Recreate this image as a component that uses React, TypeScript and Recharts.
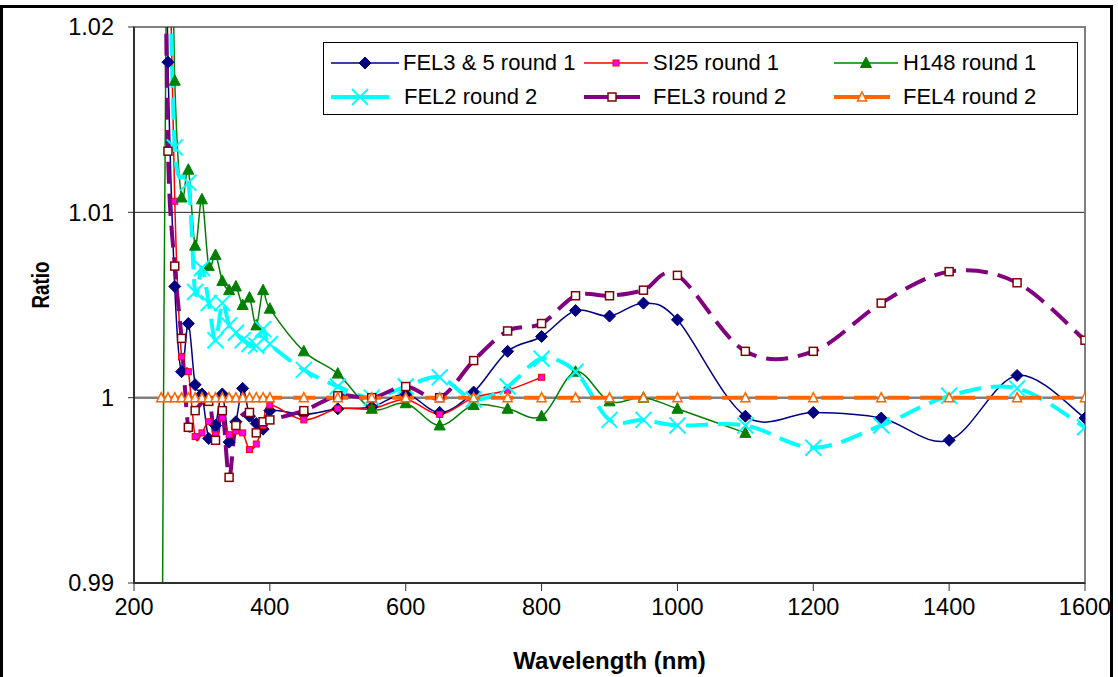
import React from "react";
import {
  LineChart, Line, XAxis, YAxis, CartesianGrid,
  ReferenceLine, ReferenceArea
} from "recharts";

// wavelengths (nm) and ratios
const fel35Wl = [245, 250, 260, 270, 280, 290, 300, 310, 320, 330, 340, 350, 360, 370, 380, 390, 400, 450, 500, 550, 600, 650, 700, 750, 800, 850, 900, 950, 1000, 1100, 1200, 1300, 1400, 1500, 1600];
const fel35Ratio = [1.032, 1.0181, 1.006, 1.0014, 1.004, 1.0007, 1.0002, 0.9978, 0.9985, 1.0002, 0.9976, 0.9987, 1.0005, 0.999, 0.9986, 0.9983, 0.9993, 0.9991, 0.9994, 0.9995, 1.0002, 0.9992, 1.0003, 1.0025, 1.0033, 1.0047, 1.0044, 1.0051, 1.0042, 0.999, 0.9992, 0.9989, 0.9977, 1.0012, 0.9989];

const si25Wl = [250, 260, 270, 280, 290, 300, 310, 320, 330, 340, 350, 360, 370, 380, 390, 400, 450, 500, 550, 600, 650, 700, 750, 800];
const si25Ratio = [1.03, 1.0106, 1.0022, 1.0014, 0.9979, 0.9981, 0.9987, 0.998, 0.9989, 0.998, 0.9982, 0.9981, 0.9972, 0.9975, 0.9985, 0.9996, 0.9988, 0.9994, 0.9994, 0.9999, 0.9991, 1.0, 1.0004, 1.0011];

const h148Wl = [240, 250, 260, 270, 280, 290, 300, 310, 320, 330, 340, 350, 360, 370, 380, 390, 400, 450, 500, 550, 600, 650, 700, 750, 800, 850, 900, 950, 1000, 1100];
const h148Ratio = [0.975, 1.035, 1.0171, 1.0108, 1.0123, 1.0082, 1.0107, 1.0071, 1.0077, 1.0063, 1.0058, 1.006, 1.005, 1.0054, 1.0039, 1.0058, 1.0048, 1.0025, 1.0013, 0.9994, 0.9997, 0.9985, 0.9996, 0.9994, 0.999, 1.0014, 0.9998, 1.0, 0.9994, 0.9981];

const fel2Wl = [250, 260, 280, 290, 300, 310, 320, 330, 340, 350, 360, 370, 380, 390, 400, 450, 500, 550, 600, 650, 700, 750, 800, 850, 900, 950, 1000, 1100, 1200, 1300, 1400, 1500, 1600];
const fel2Ratio = [1.03, 1.0135, 1.0116, 1.0057, 1.007, 1.0051, 1.0031, 1.0051, 1.0039, 1.0035, 1.0031, 1.0029, 1.0028, 1.0037, 1.0029, 1.0015, 1.0006, 1.0, 1.0006, 1.0011, 0.9999, 1.0006, 1.0021, 1.0014, 0.9988, 0.9988, 0.9985, 0.9985, 0.9973, 0.9985, 1.0001, 1.0005, 0.9984];

const fel3Wl = [245, 250, 260, 270, 280, 290, 310, 320, 330, 340, 350, 370, 380, 390, 400, 450, 500, 550, 600, 650, 700, 750, 800, 850, 900, 950, 1000, 1100, 1200, 1300, 1400, 1500, 1600];
const fel3Ratio = [1.03, 1.0133, 1.0071, 1.0032, 0.9984, 0.9993, 0.9998, 0.9977, 0.9993, 0.9957, 0.9985, 0.9992, 0.9981, 0.9987, 0.9988, 0.9993, 1.0001, 1.0, 1.0006, 1.0, 1.002, 1.0036, 1.004, 1.0055, 1.0055, 1.0058, 1.0066, 1.0025, 1.0025, 1.0051, 1.0068, 1.0062, 1.0031];

const fel4Wl = [240, 250, 260, 270, 280, 290, 300, 310, 320, 330, 340, 350, 360, 370, 380, 390, 400, 450, 500, 550, 600, 650, 700, 750, 800, 850, 900, 950, 1000, 1100, 1200, 1300, 1400, 1500, 1600];
const fel4Ratio = [1, 1, 1, 1, 1, 1, 1, 1, 1, 1, 1, 1, 1, 1, 1, 1, 1, 1, 1, 1, 1, 1, 1, 1, 1, 1, 1, 1, 1, 1, 1, 1, 1, 1, 1];

const xTicks = [200, 400, 600, 800, 1000, 1200, 1400, 1600];
const yTicks = [0.99, 1.0, 1.01, 1.02];

const toPoints = (xs: number[], ys: number[]) => xs.map((x, i) => ({ x, y: ys[i] }));

const FONT = '"Liberation Sans", Arial, sans-serif';

// Excel-style smoothed line (Catmull-Rom as cubic beziers)
function excelSmooth(context: any) {
  let pts: number[][] = [];
  return {
    areaStart() {},
    areaEnd() {},
    lineStart() { pts = []; },
    point(x: number, y: number) { pts.push([+x, +y]); },
    lineEnd() {
      if (!pts.length) return;
      context.moveTo(pts[0][0], pts[0][1]);
      const t = 1 / 6;
      for (let i = 0; i < pts.length - 1; i++) {
        const p0 = pts[i - 1] || pts[i];
        const p1 = pts[i];
        const p2 = pts[i + 1];
        const p3 = pts[i + 2] || p2;
        context.bezierCurveTo(
          p1[0] + (p2[0] - p0[0]) * t, p1[1] + (p2[1] - p0[1]) * t,
          p2[0] - (p3[0] - p1[0]) * t, p2[1] - (p3[1] - p1[1]) * t,
          p2[0], p2[1]
        );
      }
    },
  };
}

// marker shapes
const Diamond = ({ cx, cy }: any) => (
  <path d={`M${cx},${cy - 6}L${cx + 6},${cy}L${cx},${cy + 6}L${cx - 6},${cy}Z`} fill="#000080" stroke="#000080" />
);
const SmallSquare = ({ cx, cy }: any) => (
  <rect x={cx - 3} y={cy - 3} width={6} height={6} fill="#ff00ff" stroke="#ff0000" strokeWidth={1} />
);
const FilledTriangle = ({ cx, cy }: any) => (
  <path d={`M${cx},${cy - 6}L${cx + 5.5},${cy + 4.5}L${cx - 5.5},${cy + 4.5}Z`} fill="#008000" stroke="#008000" />
);
const Cross = ({ cx, cy }: any) => (
  <g stroke="#00ffff" strokeWidth={2}>
    <line x1={cx - 8} y1={cy - 8} x2={cx + 8} y2={cy + 8} />
    <line x1={cx - 8} y1={cy + 8} x2={cx + 8} y2={cy - 8} />
  </g>
);
const OpenSquare = ({ cx, cy }: any) => (
  <rect x={cx - 4} y={cy - 4} width={8} height={8} fill="#ffffff" stroke="#800000" strokeWidth={1.5} />
);
const OpenTriangle = ({ cx, cy }: any) => (
  <path d={`M${cx},${cy - 5}L${cx + 4.5},${cy + 4}L${cx - 4.5},${cy + 4}Z`} fill="#ffffff" stroke="#ff6600" strokeWidth={1.5} />
);

const dotOf = (Shape: any) => (p: any) =>
  p.cx == null || p.cy == null ? <g key={p.index} /> : <Shape key={p.index} cx={p.cx} cy={p.cy} />;

const series = [
  { name: "FEL3 & 5 round 1", xs: fel35Wl, ys: fel35Ratio, color: "#000080", width: 1.5, dash: undefined, Shape: Diamond },
  { name: "SI25 round 1", xs: si25Wl, ys: si25Ratio, color: "#ff0000", width: 1.5, dash: undefined, Shape: SmallSquare },
  { name: "H148 round 1", xs: h148Wl, ys: h148Ratio, color: "#008000", width: 1.5, dash: undefined, Shape: FilledTriangle },
  { name: "FEL2 round 2", xs: fel2Wl, ys: fel2Ratio, color: "#00ffff", width: 4, dash: "22 10", Shape: Cross },
  { name: "FEL3 round 2", xs: fel3Wl, ys: fel3Ratio, color: "#800080", width: 4, dash: "22 10", Shape: OpenSquare },
  { name: "FEL4 round 2", xs: fel4Wl, ys: fel4Ratio, color: "#ff6600", width: 4, dash: "22 11", Shape: OpenTriangle },
];

// legend slots: [left of sample, sample length, left of text, row center] relative to the box
const legendSlots = [
  [7, 68, 79, 20], [260, 64, 329, 20], [510, 64, 579, 20],
  [7, 58, 80, 54], [260, 56, 329, 54], [510, 56, 579, 54],
];

const LegendBox = () => (
  <div style={{ position: "absolute", left: 323, top: 42, width: 755, height: 73, border: "1px solid #000", background: "#fff", boxSizing: "border-box", fontFamily: FONT }}>
    {series.map((s, i) => {
      const [sl, len, tl, cy] = legendSlots[i];
      return (
        <React.Fragment key={s.name}>
          <svg style={{ position: "absolute", left: sl, top: cy - 10 }} width={len} height={20}>
            <line x1={0} y1={10} x2={len} y2={10} stroke={s.color} strokeWidth={s.width === 4 ? 4 : 1.5} />
            <s.Shape cx={len / 2} cy={10} />
          </svg>
          <span style={{ position: "absolute", left: tl, top: cy - 13, fontSize: 22, lineHeight: "26px", whiteSpace: "nowrap", color: "#000" }}>
            {s.name}
          </span>
        </React.Fragment>
      );
    })}
  </div>
);

export default function App() {
  return (
    <div style={{ position: "absolute", left: 0, top: 0, width: 1118, height: 677, background: "#fff", fontFamily: FONT, overflow: "hidden" }}>
      {/* outer frame */}
      <div style={{ position: "absolute", left: 0, top: 5, width: 1113, height: 690, border: "3px solid #000", boxSizing: "border-box" }} />
      <LineChart width={1118} height={677} margin={{ top: 27, right: 33, bottom: 0, left: 0 }}>
        <CartesianGrid horizontal vertical={false} stroke="#202020" strokeWidth={1} />
        <ReferenceArea x1={200} x2={1600} y1={0.99} y2={1.02} fill="none" stroke="#808080" strokeWidth={2} />
        <ReferenceLine y={1} stroke="#808080" strokeWidth={2.5} />
        <XAxis
          type="number"
          dataKey="x"
          domain={[200, 1600]}
          ticks={xTicks}
          allowDataOverflow
          height={94}
          tickSize={8}
          tickMargin={7}
          tick={{ fontSize: 23.5, fill: "#000", fontFamily: FONT }}
          axisLine={{ stroke: "#303030", strokeWidth: 2 }}
          tickLine={{ stroke: "#303030" }}
          label={{ value: "Wavelength (nm)", position: "insideBottom", offset: 8, style: { fontSize: 24, fontWeight: "bold", fill: "#000", fontFamily: FONT } }}
        />
        <YAxis
          type="number"
          domain={[0.99, 1.02]}
          ticks={yTicks}
          allowDataOverflow
          width={134}
          tickSize={6}
          tickMargin={14}
          tickFormatter={(v: number) => String(v)}
          tick={{ fontSize: 23.5, fill: "#000", fontFamily: FONT }}
          axisLine={{ stroke: "#303030", strokeWidth: 2 }}
          tickLine={{ stroke: "#303030" }}
          label={{
            content: () => (
              <text x={49} y={285} transform="rotate(-90 49 285)" textAnchor="middle" fontSize={23} fontWeight="bold" fontFamily={FONT} fill="#000" textLength={47} lengthAdjust="spacingAndGlyphs">
                Ratio
              </text>
            ),
          }}
        />
        {series.map((s) => (
          <Line
            key={s.name}
            name={s.name}
            data={toPoints(s.xs, s.ys)}
            dataKey="y"
            type={excelSmooth as any}
            stroke={s.color}
            strokeWidth={s.width}
            strokeDasharray={s.dash}
            dot={dotOf(s.Shape)}
            activeDot={false}
            isAnimationActive={false}
          />
        ))}
      </LineChart>
      <LegendBox />
    </div>
  );
}
